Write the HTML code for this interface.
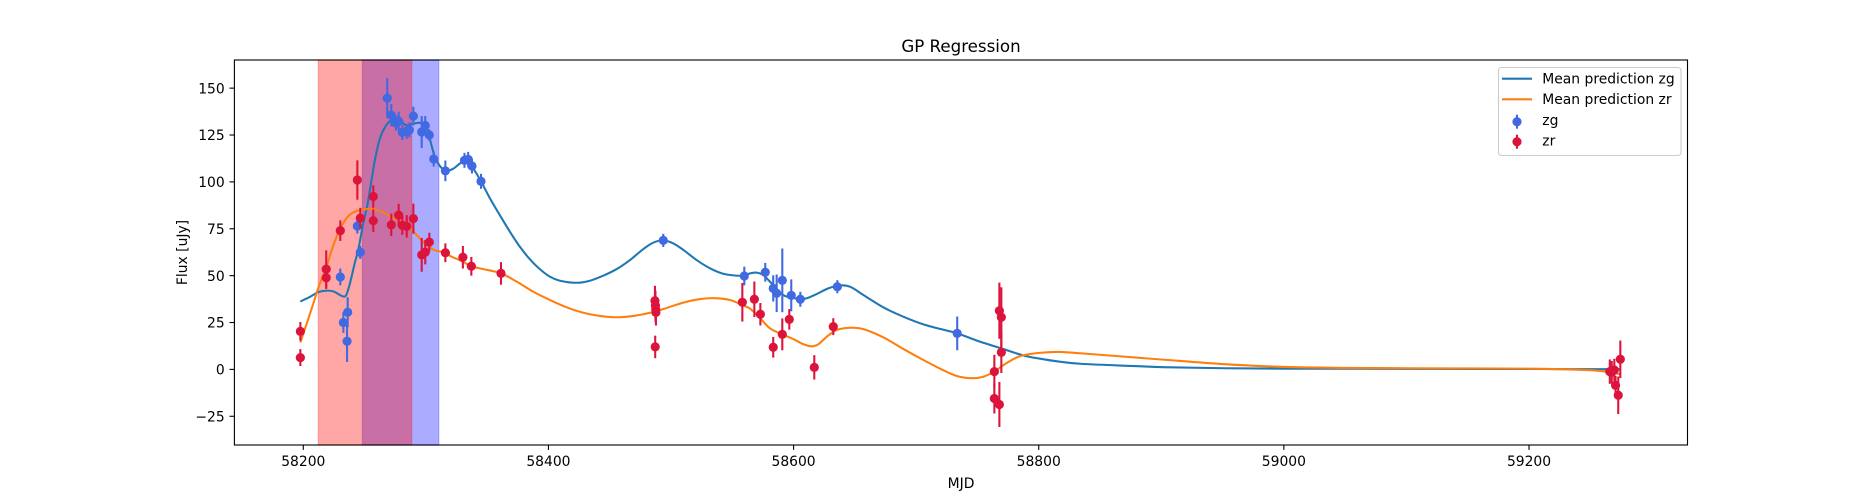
<!DOCTYPE html>
<html lang="en">
<head>
<meta charset="utf-8">
<title>GP Regression</title>
<style>
html,body{margin:0;padding:0;background:#fff;}
svg{display:block;}
text{font-family:"DejaVu Sans","Liberation Sans",sans-serif;fill:#000;}
</style>
</head>
<body>
<svg id="chart" xmlns="http://www.w3.org/2000/svg" width="1875" height="500" viewBox="0 0 1875 500">
  <rect x="0" y="0" width="1875" height="500" fill="#ffffff"/>
  <g id="spans"></g>
  <g id="lines"></g>
  <g id="points"></g>
  <rect x="234.4" y="60" width="1453.1" height="385" fill="none" stroke="#000" stroke-width="1.11"/>
  <g id="xaxis"></g>
  <g id="yaxis"></g>
  <text x="961" y="52" font-size="16.67" text-anchor="middle">GP Regression</text>
  <text x="961" y="488" font-size="13.89" text-anchor="middle">MJD</text>
  <text x="187" y="252.5" font-size="13.89" text-anchor="middle" transform="rotate(-90 187 252.5)">Flux [uJy]</text>
  <g>
    <rect x="1498.5" y="67.5" width="182.5" height="88" rx="3" ry="3" fill="#ffffff" fill-opacity="0.8" stroke="#cccccc" stroke-width="1.11"/>
    <line x1="1502" x2="1532" y1="78.7" y2="78.7" stroke="#1f77b4" stroke-width="2.08"/>
    <text x="1542.3" y="83.5" font-size="13.89">Mean prediction zg</text>
    <line x1="1502" x2="1532" y1="99.3" y2="99.3" stroke="#ff7f0e" stroke-width="2.08"/>
    <text x="1542.3" y="104" font-size="13.89">Mean prediction zr</text>
    <line x1="1517" x2="1517" y1="114.7" y2="128.7" stroke="#4169e1" stroke-width="2.08"/>
    <circle cx="1517" cy="121.7" r="4.6" fill="#4169e1"/>
    <text x="1542.3" y="125" font-size="13.89">zg</text>
    <line x1="1517" x2="1517" y1="134.7" y2="148.7" stroke="#dc143c" stroke-width="2.08"/>
    <circle cx="1517" cy="141.7" r="4.6" fill="#dc143c"/>
    <text x="1542.3" y="145.5" font-size="13.89">zr</text>
  </g>
</svg>
<script>
const xTicks = [58200, 58400, 58600, 58800, 59000, 59200];
const yTicks = [-25, 0, 25, 50, 75, 100, 125, 150];
const xDomain = [58143.79, 59329.3];
const yDomain = [-40.32, 165.01];
const redSpan = [58212.2, 58288.5];
const blueSpan = [58248.2, 58310.6];

const zgLineMjd = [58197.6,58205.5,58212.2,58219,58224.4,58228.6,58232.1,58234.9,58238.1,58242.1,58244.9,58249,58252.1,58255.7,58258.5,58262.6,58268,58273.4,58278.9,58284.4,58288.5,58293.9,58297.9,58301.2,58304.8,58307.5,58311.6,58315.9,58322.2,58328.2,58333.3,58338.3,58345,58352.3,58360.3,58368.6,58376.7,58384.9,58393.1,58401.3,58409.4,58423,58433.9,58444.8,58455.7,58466.5,58477.4,58485.5,58493.7,58501.9,58510.1,58520.9,58531.8,58542.6,58553.6,58559.8,58564.5,58569.9,58575.3,58580.7,58586.2,58591.3,58599.7,58609.4,58618.8,58628.3,58637.8,58646,58656.9,58673.2,58689.5,58705.9,58719.5,58733.5,58752,58769.5,58787.1,58801.1,58817.2,58833.7,58881.2,58901.3,58951.4,59001.5,59101.7,59201.9,59242,59275];
const zgLineFlux = [36.2,38.7,41.2,42,41.6,40.2,39,39.5,46,57,64,78.2,87,101,112,123.4,130.5,133.5,132.6,130,130.8,131.5,131,127.8,119,112.8,108.3,105.9,107,110,111.5,107.5,100.3,91.2,82.3,73.4,65.4,58.7,53.4,49.4,47.3,46.2,47.3,50,53.5,58.3,64.2,67.6,68.8,67.2,63.7,58.3,53.9,51,50,50,51.2,51.6,50.3,46.8,42.9,39.7,38,37.7,40.2,43.2,44.8,44.1,39.7,33.1,28.1,24,21.6,19.2,14.8,11.2,7.5,5.7,4.1,3,1.7,1.2,0.6,0.4,0.3,0.2,0.1,0.1];

const zrLineMjd = [58197.6,58202.8,58208.1,58212.2,58218.7,58224.4,58230.1,58236.8,58244.9,58254.4,58263.9,58273.4,58281.6,58288.5,58297.9,58306.1,58315.9,58319.6,58330.4,58337.1,58346.9,58361.3,58374.1,58387.7,58401.3,58414.9,58428.4,58442.1,58455.7,58469.2,58482.8,58493.7,58510.1,58523.7,58535.9,58548.2,58558.2,58564.5,58572.7,58580.7,58590.8,58599.7,58608.1,58614.8,58620.2,58627,58635.2,58646,58656.9,58673.2,58689.5,58705.9,58719.5,58733.1,58745.3,58754.8,58763.6,58771.2,58782.1,58792.9,58806.6,58817.2,58833.7,58901.3,58951.4,59001.5,59051.6,59101.7,59151.8,59201.9,59231.9,59252,59264,59275];
const zrLineFlux = [14.3,24.5,35,43.4,54.5,66,75,81.8,84.8,85.5,84.1,80.9,78.6,74.6,67.9,63.9,62.2,60.6,57.4,55,53.5,51.2,46.8,41.4,37,33.1,30.2,28.5,27.8,28.5,30.2,32.2,35.6,37.5,38,37,34.3,32.4,27.3,21.9,18.7,16.2,13.4,12.3,13.4,17.4,21,22.2,21.5,17.1,10.9,5,0.4,-3.5,-4.7,-3.9,-1.2,2.3,6.4,8.2,9.1,9.3,8.6,5.2,2.8,1.3,0.8,0.6,0.5,0.4,0,-0.5,-1.3,-2.7];

const zgMjd = [58230.2,58232.7,58235.7,58236.2,58244.1,58246.5,58268.5,58271.8,58275.6,58277.8,58280.8,58284.4,58286.5,58289.8,58296.6,58299.5,58302.8,58306.4,58315.9,58331.5,58334.5,58337.6,58345,58493.7,58559.8,58576.9,58583.4,58586.2,58590.8,58598.1,58605.5,58635.7,58733.5];
const zgFlux = [49.3,25,15,30.5,76.4,62.4,144.7,135.6,131.4,132.4,126.4,127,127.7,135.1,126.6,130.1,125,112.2,105.9,111.5,112,108.5,100.3,68.8,49.8,51.8,43.2,40.6,47.5,39.5,37.4,44.1,19.2];
const zgErr = [4.5,5.5,11,8,4,3.5,10.6,6,4,5,4,4,4,5,8.5,5,3,4,5.5,4,4,4,4,3.5,5,5,7,10,17,8.5,4,3.5,9];

const zrMjd = [58197.6,58197.6,58218.7,58218.7,58230.2,58244.1,58246.5,58257.1,58257.1,58271.8,58277.8,58280.8,58284.4,58289.8,58296.6,58299.5,58302.8,58315.9,58330.2,58337.1,58361.3,58486.9,58487.3,58487.5,58487.7,58487.1,58558.2,58568,58572.9,58583.4,58590.8,58596.5,58616.9,58632.4,58763.8,58763.8,58767.9,58767.9,58769.5,58769.5,59265.9,59267.5,59269.6,59270.6,59272.8,59274.5];
const zrFlux = [20.3,6.3,53.5,48.9,74,101,80.7,92.2,79.3,77.1,82.3,76.8,76.3,80.4,61.1,62.5,67.9,62.2,59.8,55,51.2,36.6,34,32,30.4,12,35.8,37.4,29.4,11.8,18.7,26.7,1.1,22.8,-1.2,-15.5,31.3,-18.7,27.8,9.1,-1.2,-1.5,-0.3,-8.5,-13.8,5.4];
const zrErr = [5,4.5,10,6,5.5,10.5,5.5,6,6,6,6,5,6,8,9,6.5,5,5,6,5,6,8,8,7,7,6,10.3,9.5,6,5.5,8.5,5.5,6.5,4.5,9,8,15,12,16,11,6.5,6,6,5,10,10];

const SVGNS = 'http://www.w3.org/2000/svg';
const plotLeft = 234.4, plotWidth = 1453.1, plotTop = 60, plotHeight = 385;
function xScale(v){ return plotLeft + (v - xDomain[0]) / (xDomain[1] - xDomain[0]) * plotWidth; }
function yScale(v){ return plotTop + plotHeight - (v - yDomain[0]) / (yDomain[1] - yDomain[0]) * plotHeight; }
function make(tag, parent){
  const el = document.createElementNS(SVGNS, tag);
  parent.appendChild(el);
  return el;
}
function smoothPath(xs, ys){
  const px = xs.map(xScale), py = ys.map(yScale), n = px.length, slope = [];
  for (let i = 0; i < n; i++) {
    const a = Math.max(0, i - 1), b = Math.min(n - 1, i + 1);
    slope.push((py[b] - py[a]) / (px[b] - px[a]));
  }
  let d = 'M' + px[0].toFixed(2) + ' ' + py[0].toFixed(2);
  for (let i = 0; i < n - 1; i++) {
    const h = (px[i + 1] - px[i]) / 3;
    d += 'C' + (px[i] + h).toFixed(2) + ' ' + (py[i] + slope[i] * h).toFixed(2) + ' '
      + (px[i + 1] - h).toFixed(2) + ' ' + (py[i + 1] - slope[i + 1] * h).toFixed(2) + ' '
      + px[i + 1].toFixed(2) + ' ' + py[i + 1].toFixed(2);
  }
  return d;
}
function drawSpan(range, color, opacity, name){
  const r = make('rect', document.getElementById('spans'));
  
  
  r.setAttribute('x', xScale(range[0]));
  r.setAttribute('y', plotTop);
  r.setAttribute('width', xScale(range[1]) - xScale(range[0]));
  r.setAttribute('height', plotHeight);
  r.setAttribute('fill', color);
  r.setAttribute('fill-opacity', opacity);
  r.setAttribute('stroke', color);
  r.setAttribute('stroke-opacity', opacity * 0.6);
  r.setAttribute('stroke-width', 1.4);
}
function drawLine(xs, ys, color, name){
  const p = make('path', document.getElementById('lines'));
  
  
  p.setAttribute('d', smoothPath(xs, ys));
  p.setAttribute('fill', 'none');
  p.setAttribute('stroke', color);
  p.setAttribute('stroke-width', 2.08);
}
function drawPoints(xs, ys, errs, color, prefix){
  const group = document.getElementById('points');
  xs.forEach(function(m, i){
    const bar = make('line', group);
    
    
    bar.setAttribute('x1', xScale(m));
    bar.setAttribute('x2', xScale(m));
    bar.setAttribute('y1', yScale(ys[i] + errs[i]));
    bar.setAttribute('y2', yScale(ys[i] - errs[i]));
    bar.setAttribute('stroke', color);
    bar.setAttribute('stroke-width', 2.08);
  });
  xs.forEach(function(m, i){
    const dot = make('circle', group);
    
    
    dot.setAttribute('cx', xScale(m));
    dot.setAttribute('cy', yScale(ys[i]));
    dot.setAttribute('r', 4.6);
    dot.setAttribute('fill', color);
  });
}
function drawAxes(){
  const xg = document.getElementById('xaxis');
  xTicks.forEach(function(t){
    const mark = make('line', xg);
    
    
    mark.setAttribute('x1', xScale(t));
    mark.setAttribute('x2', xScale(t));
    mark.setAttribute('y1', 445);
    mark.setAttribute('y2', 449.9);
    mark.setAttribute('stroke', '#000');
    mark.setAttribute('stroke-width', 1.11);
    const label = make('text', xg);
    
    
    label.setAttribute('x', xScale(t));
    label.setAttribute('y', 466);
    label.setAttribute('font-size', 13.89);
    label.setAttribute('text-anchor', 'middle');
    label.textContent = String(t);
  });
  const yg = document.getElementById('yaxis');
  yTicks.forEach(function(t){
    const mark = make('line', yg);
    
    
    mark.setAttribute('x1', 229.5);
    mark.setAttribute('x2', 234.4);
    mark.setAttribute('y1', yScale(t));
    mark.setAttribute('y2', yScale(t));
    mark.setAttribute('stroke', '#000');
    mark.setAttribute('stroke-width', 1.11);
    const label = make('text', yg);
    
    
    label.setAttribute('x', 224.7);
    label.setAttribute('y', yScale(t) + 5.2);
    label.setAttribute('font-size', 13.89);
    label.setAttribute('text-anchor', 'end');
    label.textContent = String(t).replace('-', '\u2212');
  });
}
drawSpan(blueSpan, '#0000ff', 0.33, 'blue-span');
drawSpan(redSpan, '#ff0000', 0.35, 'red-span');
drawLine(zgLineMjd, zgLineFlux, '#1f77b4', 'mean-prediction-zg-line');
drawLine(zrLineMjd, zrLineFlux, '#ff7f0e', 'mean-prediction-zr-line');
drawPoints(zgMjd, zgFlux, zgErr, '#4169e1', 'zg');
drawPoints(zrMjd, zrFlux, zrErr, '#dc143c', 'zr');
drawAxes();
</script>
</body>
</html>
